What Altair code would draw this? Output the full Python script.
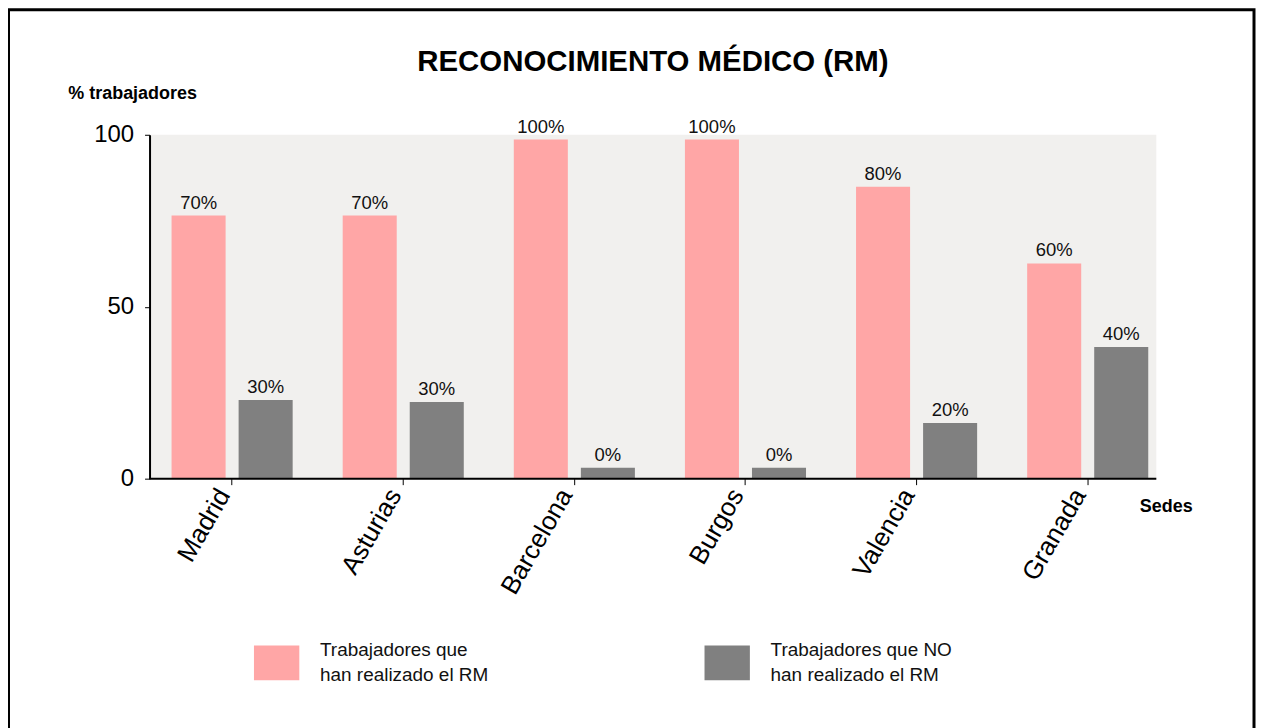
import altair as alt
import pandas as pd

FONT = "Liberation Sans"

sedes = ["Madrid", "Asturias", "Barcelona", "Burgos", "Valencia", "Granada"]
serie_si = "Trabajadores que|han realizado el RM"
serie_no = "Trabajadores que NO|han realizado el RM"
series = [serie_si, serie_no]
valores_si = [76.5, 76.5, 98.6, 98.6, 84.9, 62.6]
valores_no = [22.9, 22.3, 3.2, 3.2, 16.2, 38.3]
etiquetas_si = ["70%", "70%", "100%", "100%", "80%", "60%"]
etiquetas_no = ["30%", "30%", "0%", "0%", "20%", "40%"]
colores = ["#FFA6A6", "#808080"]
y_ticks = [0, 50, 100]

rows = []
for i, s in enumerate(sedes):
    rows.append(dict(sede=s, serie=serie_si, valor=valores_si[i], etiqueta=etiquetas_si[i]))
    rows.append(dict(sede=s, serie=serie_no, valor=valores_no[i], etiqueta=etiquetas_no[i]))
df = pd.DataFrame(rows)

W, H = 1010, 345

x_enc = alt.X(
    "sede:N",
    sort=sedes,
    scale=alt.Scale(range=[-3, 1027], paddingInner=0, paddingOuter=0),
    axis=alt.Axis(
        title="Sedes",
        labelAngle=300,
        labelAlign="right",
        labelBaseline="middle",
        labelFontSize=26,
        labelFont=FONT,
        labelColor="black",
        labelPadding=6,
        labelOffset=-8,
        domain=False,
        ticks=True,
        tickColor="black",
        tickSize=6,
        titleFont=FONT,
        titleFontSize=18,
        titleFontWeight="bold",
        titleColor="black",
        titleAngle=0,
        titleAlign="left",
        titleBaseline="middle",
        titleX=993,
        titleY=28,
    ),
)
xoff_enc = alt.XOffset(
    "serie:N", sort=series, scale=alt.Scale(paddingInner=0.194, paddingOuter=0.373)
)
y_enc = alt.Y(
    "valor:Q",
    scale=alt.Scale(domain=[0, 100], nice=False),
    axis=alt.Axis(
        title="% trabajadores",
        values=y_ticks,
        grid=False,
        domainColor="black",
        domainWidth=2,
        tickColor="black",
        tickSize=5,
        tickWidth=1,
        labelFontSize=24,
        labelFont=FONT,
        labelColor="black",
        labelPadding=11,
        titleFont=FONT,
        titleFontSize=18,
        titleFontWeight="bold",
        titleColor="black",
        titleAngle=0,
        titleAlign="left",
        titleBaseline="middle",
        titleX=-82,
        titleY=-41,
    ),
)

base = alt.Chart(df)

bars = base.mark_bar().encode(
    x=x_enc,
    xOffset=xoff_enc,
    y=y_enc,
    color=alt.Color(
        "serie:N",
        scale=alt.Scale(domain=series, range=colores),
        legend=alt.Legend(
            orient="none",
            legendX=110,
            legendY=512,
            direction="horizontal",
            title=None,
            symbolType="M-1.3,-1H1.3V1H-1.3Z",
            symbolSize=1225,
            symbolStrokeWidth=0,
            symbolOpacity=1,
            labelFontSize=19,
            labelFont=FONT,
            labelColor="#111111",
            labelOffset=26,
            labelLimit=400,
            labelBaseline="line-bottom",
            columnPadding=216,
            labelExpr="split(datum.label, '|')",
        ),
    ),
)

labels = base.mark_text(
    baseline="bottom", dy=-3, fontSize=18.5, font=FONT, color="#111111"
).encode(x=x_enc, xOffset=xoff_enc, y=y_enc, text="etiqueta:N")

baseline_rule = alt.Chart(pd.DataFrame({"a": [0]})).mark_rule(
    color="black", strokeWidth=2
).encode(x=alt.value(0), x2=alt.value(W), y=alt.value(H))

frame = alt.Chart(pd.DataFrame({"a": [0]})).mark_rect(
    filled=False, stroke="black", strokeWidth=3
).encode(x=alt.value(-141.5), x2=alt.value(1108), y=alt.value(-125.5), y2=alt.value(640))

chart = (
    alt.layer(bars, labels, baseline_rule, frame)
    .properties(
        width=W,
        height=H,
        title=alt.Title(
            "RECONOCIMIENTO MÉDICO (RM)",
            font=FONT,
            fontSize=29.5,
            fontWeight="bold",
            color="black",
            anchor="middle",
            frame="group",
            baseline="alphabetic",
            offset=-93,
        ),
        autosize=alt.AutoSizeParams(type="none"),
        padding={"left": 142, "top": 126, "right": 100, "bottom": 262},
        background="white",
    )
    .configure(style={"guide-label": {"lineHeight": 25}})
    .configure_view(fill="#F1F0EE", strokeWidth=0)
)

chart.save("out.html", embed_options={"renderer": "svg", "actions": False})
